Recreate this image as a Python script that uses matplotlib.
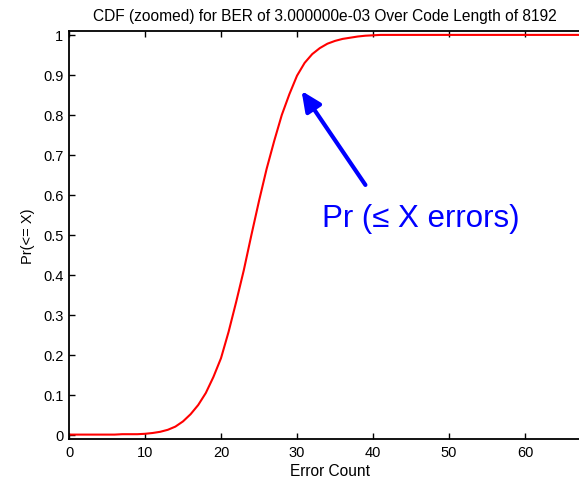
import matplotlib
matplotlib.use("Agg")
import matplotlib.pyplot as plt

plt.rcParams['font.family'] = ['Liberation Sans', 'DejaVu Sans']

# values
err_count = list(range(0, 70))
cdf_vals = [0.001, 0.001, 0.001, 0.001, 0.001, 0.001, 0.001, 0.002, 0.002, 0.002,
            0.003, 0.005, 0.008, 0.013, 0.021, 0.034, 0.052, 0.075, 0.105, 0.145,
            0.192, 0.258, 0.333, 0.412, 0.50, 0.585, 0.665, 0.735, 0.80, 0.852,
            0.898, 0.93, 0.952, 0.967, 0.978, 0.985, 0.99, 0.993, 0.996, 0.998,
            0.999] + [1.0] * 29

x_ticks = [0, 10, 20, 30, 40, 50, 60]
y_ticks = [0, 0.1, 0.2, 0.3, 0.4, 0.5, 0.6, 0.7, 0.8, 0.9, 1]
y_ticklabels = ['0', '0.1', '0.2', '0.3', '0.4', '0.5', '0.6', '0.7', '0.8', '0.9', '1']

fig = plt.figure(figsize=(5.79, 4.81), dpi=100)
ax = fig.add_axes([69 / 579, 1 - 440 / 481, 521 / 579, (440 - 32.3) / 481])

ax.plot(err_count, cdf_vals, color='#ff0000', lw=1.5)

ax.set_xlim(0, 68.55)
ax.set_ylim(-0.01, 1.009)
ax.set_xticks(x_ticks)
ax.set_yticks(y_ticks)
ax.set_yticklabels(y_ticklabels)
ax.tick_params(direction='in', length=4, width=1, top=True, right=True,
               labelsize=10.5, pad=4)
for s in ax.spines.values():
    s.set_linewidth(1.3)

ax.set_title('CDF (zoomed) for BER of 3.000000e-03 Over Code Length of 8192',
             fontsize=11.2, pad=8, x=0.492)
ax.set_xlabel('Error Count', fontsize=11.2, labelpad=3.5)
ax.set_ylabel('Pr(<= X)', fontsize=10.5, labelpad=6)

# annotation arrow
ax.annotate('', xy=(30.6, 0.86), xytext=(39.0, 0.625),
            arrowprops=dict(arrowstyle='-|>,head_length=1.2,head_width=0.55',
                            color='#0000ff', lw=3, shrinkA=0, shrinkB=0))
ax.text(33.3, 0.522, 'Pr (\u2264 X errors)', color='#0000ff', fontsize=22.5,
        ha='left', va='baseline')

fig.savefig('out.png', dpi=100)
